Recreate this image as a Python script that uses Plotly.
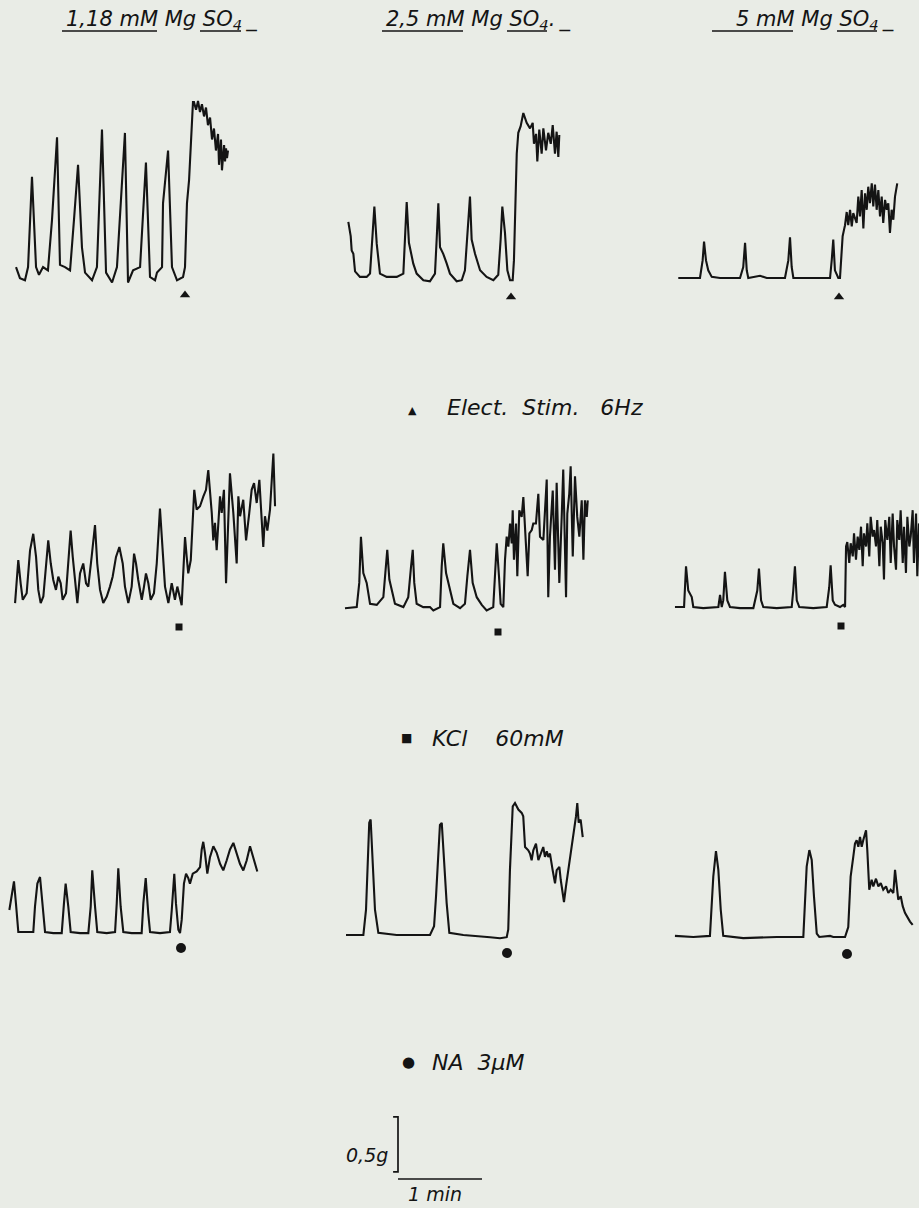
import plotly.graph_objects as go

# ---------------- data ----------------
# Columns: MgSO4 concentration; rows: stimulus applied at t = 0
col_conc = ["1,18 mM", "2,5 mM", "5 mM"]
row_agent = ["Elect.  Stim.", "KCl", "NA"]
row_dose = ["6Hz", "60mM", "3µM"]
stim_time = 0.0          # s, time of stimulus / drug addition
scale_tension = 0.5      # g  (calibration bar)
scale_time = 60          # s  (calibration bar)

# time (s, relative to stimulus) and tension (g, relative to baseline)
a_t = [-120.7, -117.9, -114.3, -112.1, -109.3, -106.4, -104.3, -101.4, -97.9, -95.0, -91.4, -89.3, -85.7, -82.1,
       -79.3, -76.4, -73.6, -71.4, -66.4, -62.9, -59.3, -56.4, -52.1, -48.6, -42.9, -40.7, -37.1, -32.1, -27.9,
       -25.0, -21.4, -20.0, -16.4, -15.7, -12.1, -9.3, -5.7, -1.4, 0.0, 1.4, 2.9, 5.0, 5.7, 6.4, 7.9, 9.3, 10.7,
       12.1, 13.6, 15.0, 16.4, 17.9, 19.3, 20.7, 22.1, 23.6, 24.3, 25.7, 26.4, 27.9, 28.6, 29.3, 30.0, 30.7]
a_g = [0.09, -0.01, -0.03, 0.09, 0.91, 0.09, 0.02, 0.09, 0.06, 0.52, 1.27, 0.11, 0.09, 0.06, 0.52, 1.02, 0.27,
       0.04, -0.03, 0.09, 1.34, 0.04, -0.05, 0.09, 1.31, -0.05, 0.06, 0.09, 1.04, 0.00, -0.03, 0.04, 0.09, 0.67,
       1.15, 0.09, -0.03, 0.00, 0.09, 0.67, 0.88, 1.49, 1.59, 1.59, 1.52, 1.60, 1.50, 1.57, 1.46, 1.54, 1.38,
       1.45, 1.25, 1.35, 1.15, 1.30, 1.02, 1.25, 0.97, 1.20, 1.05, 1.17, 1.08, 1.15]

b_t = [-116.2, -114.5, -113.8, -112.6, -111.4, -107.9, -103.1, -100.7, -98.8, -97.6, -95.9, -93.6, -88.8, -81.6,
       -76.9, -75.7, -74.5, -72.9, -69.8, -67.4, -62.6, -57.9, -54.3, -53.1, -51.9, -50.7, -48.4, -45.9, -43.6,
       -38.8, -35.2, -32.9, -30.5, -29.3, -28.1, -25.7, -22.1, -17.4, -12.6, -9.1, -7.4, -6.2, -4.3, -2.6, -0.7,
       1.2, 2.1, 3.1, 4.1, 5.2, 6.9, 8.8, 11.2, 13.6, 15.5, 16.4, 17.9, 18.8, 20.2, 21.9, 23.1, 25.0, 26.6, 28.4,
       29.8, 31.4, 32.6, 33.8, 34.5]
b_g = [0.51, 0.38, 0.25, 0.22, 0.06, 0.01, 0.01, 0.04, 0.41, 0.65, 0.31, 0.04, 0.01, 0.01, 0.04, 0.35, 0.69,
       0.32, 0.13, 0.04, -0.02, -0.03, 0.04, 0.35, 0.68, 0.28, 0.22, 0.13, 0.04, -0.03, -0.02, 0.07, 0.47, 0.74,
       0.35, 0.22, 0.07, 0.01, -0.02, 0.03, 0.35, 0.65, 0.41, 0.07, -0.02, -0.02, 0.16, 0.71, 1.13, 1.32, 1.38,
       1.50, 1.41, 1.36, 1.41, 1.22, 1.31, 1.06, 1.35, 1.13, 1.36, 1.16, 1.32, 1.22, 1.39, 1.13, 1.33, 1.10, 1.30]

c_t = [-114.8, -99.3, -97.4, -96.4, -95.0, -93.4, -90.9, -85.0, -70.7, -68.4, -67.1, -65.9, -64.8, -58.8, -56.4,
       -51.6, -38.6, -36.2, -35.0, -33.8, -32.6, -20.7, -6.4, -5.2, -4.1, -2.9, -0.5, 0.7, 1.9, 2.6, 3.6, 4.3,
       5.5, 6.6, 7.9, 9.1, 10.2, 12.6, 13.8, 15.0, 16.2, 17.4, 18.6, 19.8, 20.9, 22.1, 23.4, 24.5, 25.7, 26.9,
       28.1, 29.3, 30.5, 31.6, 32.9, 34.1, 35.2, 36.4, 37.6, 38.8, 40.0, 41.6]
c_g = [0.00, 0.00, 0.16, 0.33, 0.16, 0.07, 0.01, 0.00, 0.00, 0.10, 0.32, 0.07, 0.00, 0.01, 0.02, 0.00, 0.00,
       0.16, 0.37, 0.10, 0.00, 0.00, 0.00, 0.16, 0.35, 0.07, 0.00, 0.00, 0.22, 0.38, 0.44, 0.48, 0.60, 0.48,
       0.62, 0.47, 0.59, 0.50, 0.74, 0.56, 0.80, 0.45, 0.77, 0.62, 0.83, 0.68, 0.86, 0.65, 0.85, 0.62, 0.80,
       0.56, 0.74, 0.50, 0.71, 0.62, 0.68, 0.41, 0.62, 0.53, 0.74, 0.86]

d_t = [-117.1, -114.8, -113.1, -111.6, -108.8, -106.4, -104.1, -102.1, -100.5, -98.8,
       -96.9, -95.0, -93.4, -91.6, -89.8, -87.9, -86.2, -84.5, -83.1, -80.7,
       -79.1, -77.4, -75.9, -73.6, -72.6, -70.7, -68.4, -66.4, -64.8, -62.4,
       -60.0, -58.4, -56.4, -54.1, -51.6, -49.3, -47.4, -45.0, -42.6, -40.2,
       -38.6, -36.2, -33.8, -32.1, -30.7, -29.1, -26.6, -25.0, -23.6, -21.9,
       -20.2, -17.9, -15.9, -13.6, -11.6, -10.0, -7.6, -5.2, -2.9, -1.2,
       1.9, 3.1, 4.3, 5.5, 6.6, 8.4, 9.8, 10.9, 12.6, 15.0,
       17.4, 19.3, 20.9, 22.1, 23.4, 24.5, 25.7, 26.9, 28.1, 29.3,
       30.5, 32.1, 33.6, 34.8, 36.4, 38.8, 41.2, 42.4, 43.6, 45.9,
       47.9, 50.2, 51.9, 53.6, 55.5, 57.4, 59.1, 60.2, 61.4, 63.1,
       65.0, 66.2, 67.4, 68.6]
d_g = [-0.01, 0.38, 0.17, 0.02, 0.08, 0.47, 0.62, 0.41, 0.11, -0.01,
       0.05, 0.35, 0.56, 0.35, 0.20, 0.11, 0.23, 0.17, 0.02, 0.08,
       0.41, 0.65, 0.41, 0.14, -0.01, 0.26, 0.35, 0.17, 0.14, 0.41,
       0.70, 0.35, 0.11, -0.01, 0.05, 0.14, 0.23, 0.41, 0.50, 0.35,
       0.14, -0.01, 0.14, 0.44, 0.35, 0.20, 0.02, 0.14, 0.26, 0.17,
       0.02, 0.08, 0.35, 0.85, 0.41, 0.14, -0.01, 0.17, 0.02, 0.14,
       -0.03, 0.23, 0.59, 0.41, 0.26, 0.38, 0.81, 1.02, 0.84, 0.87,
       0.96, 1.02, 1.20, 1.02, 0.81, 0.56, 0.72, 0.47, 0.72, 0.96,
       0.81, 1.02, 0.17, 0.65, 1.17, 0.81, 0.35, 0.96, 0.78, 0.93,
       0.56, 0.81, 1.02, 1.08, 0.90, 1.11, 0.68, 0.50, 0.78, 0.65,
       0.84, 1.05, 1.35, 0.87]

e_t = [-109.3, -100.9, -99.1, -97.9, -96.2, -93.8, -91.4, -86.6, -81.9, -80.0,
       -79.1, -77.6, -75.9, -73.6, -67.6, -64.1, -62.1, -60.9, -59.8, -58.1,
       -53.4, -48.6, -46.2, -41.4, -40.2, -39.1, -37.1, -34.3, -31.9, -27.1,
       -23.6, -21.9, -20.0, -18.1, -15.2, -11.6, -8.1, -3.4, -2.1, -0.9,
       0.7, 1.9, 3.8, 5.0, 6.2, 7.4, 8.6, 9.8, 10.5, 11.4,
       12.9, 13.8, 15.2, 16.9, 18.1, 20.0, 21.2, 22.4, 24.1, 25.2,
       27.1, 28.8, 30.0, 32.4, 34.8, 35.9, 37.1, 39.1, 40.7, 41.9,
       43.8, 45.5, 46.6, 48.6, 49.5, 50.9, 51.9, 53.4, 55.0, 56.6,
       58.1, 59.8, 61.0, 62.1, 63.4, 64.1]
e_g = [-0.02, -0.01, 0.21, 0.63, 0.30, 0.21, 0.02, 0.01, 0.08, 0.36,
       0.51, 0.24, 0.15, 0.02, -0.01, 0.08, 0.36, 0.51, 0.21, 0.02,
       -0.01, -0.01, -0.04, -0.01, 0.36, 0.57, 0.30, 0.15, 0.02, -0.02,
       0.02, 0.27, 0.51, 0.21, 0.08, 0.01, -0.04, -0.01, 0.30, 0.57,
       0.27, 0.02, -0.01, 0.42, 0.63, 0.54, 0.75, 0.57, 0.87, 0.42,
       0.75, 0.27, 0.87, 0.81, 0.99, 0.60, 0.27, 0.66, 0.69, 0.75,
       0.75, 1.02, 0.63, 0.60, 1.15, 0.08, 0.63, 1.05, 0.33, 1.12,
       0.21, 0.81, 1.24, 0.08, 0.84, 1.02, 1.27, 0.45, 1.18, 0.81,
       0.63, 0.96, 0.42, 0.96, 0.81, 0.96]

f_t = [-118.6, -112.1, -110.7, -109.1, -106.6, -105.5, -98.4, -87.6, -86.4, -85.2,
       -84.1, -82.9, -81.2, -79.3, -72.1, -62.6, -59.8, -58.6, -57.1, -55.5,
       -45.9, -35.2, -34.1, -32.9, -31.6, -29.8, -19.8, -10.2, -8.4, -7.4,
       -5.9, -4.3, -0.7, 1.6, 2.9, 3.6, 4.5, 5.9, 6.9, 8.4,
       9.3, 10.7, 11.9, 13.1, 14.3, 15.5, 16.4, 17.9, 18.8, 20.2,
       21.2, 22.6, 23.6, 25.0, 25.9, 27.4, 28.4, 29.8, 30.7, 31.6,
       33.1, 34.5, 35.5, 36.9, 37.9, 39.3, 40.2, 41.6, 42.6, 44.1,
       45.0, 46.4, 47.4, 48.8, 49.8, 51.2, 52.1, 53.6, 54.5, 55.7]
f_g = [0.00, 0.00, 0.37, 0.15, 0.09, 0.00, -0.01, 0.00, 0.11, 0.00,
       0.06, 0.32, 0.06, 0.00, -0.01, -0.01, 0.15, 0.35, 0.06, 0.00,
       -0.01, 0.00, 0.15, 0.37, 0.06, 0.00, -0.01, 0.00, 0.18, 0.38,
       0.06, 0.02, 0.00, 0.02, 0.00, 0.55, 0.59, 0.40, 0.58, 0.46,
       0.67, 0.43, 0.64, 0.52, 0.73, 0.37, 0.67, 0.55, 0.76, 0.46,
       0.82, 0.64, 0.70, 0.55, 0.79, 0.37, 0.73, 0.58, 0.25, 0.79,
       0.61, 0.82, 0.40, 0.85, 0.55, 0.34, 0.79, 0.61, 0.88, 0.40,
       0.73, 0.31, 0.82, 0.55, 0.64, 0.88, 0.40, 0.85, 0.28, 0.76]

g_t = [-122.6, -120.9, -119.3, -117.9, -116.2, -110.2, -105.5, -104.3, -102.6, -100.7,
       -98.8, -97.1, -91.2, -85.2, -83.6, -82.4, -80.5, -78.8, -72.1, -66.2,
       -64.5, -63.4, -61.4, -59.8, -53.1, -47.1, -45.9, -44.8, -43.1, -41.2,
       -35.2, -28.1, -26.9, -25.2, -23.4, -22.1, -15.0, -7.9, -6.6, -4.8,
       -3.6, -1.9, -0.7, 0.5, 2.1, 3.6, 5.2, 6.4, 8.4, 11.2,
       13.6, 14.8, 15.9, 17.1, 18.8, 20.7, 23.1, 25.5, 27.9, 30.2,
       32.6, 35.0, 37.4, 39.8, 42.1, 44.5, 46.9, 49.3, 51.6, 53.6,
       54.5]
g_g = [0.20, 0.35, 0.46, 0.26, 0.00, 0.00, 0.00, 0.23, 0.44, 0.50,
       0.26, 0.00, -0.01, -0.01, 0.26, 0.44, 0.23, 0.00, -0.01, -0.01,
       0.23, 0.56, 0.23, 0.00, -0.01, 0.00, 0.26, 0.58, 0.23, 0.00,
       -0.01, -0.01, 0.26, 0.49, 0.17, 0.00, -0.01, 0.00, 0.20, 0.53,
       0.26, 0.02, -0.01, 0.11, 0.44, 0.53, 0.49, 0.44, 0.53, 0.55,
       0.59, 0.75, 0.82, 0.72, 0.53, 0.68, 0.78, 0.72, 0.62, 0.56,
       0.65, 0.75, 0.81, 0.72, 0.62, 0.56, 0.65, 0.78, 0.68, 0.59,
       0.55]

h_t = [-115.0, -102.6, -100.7, -99.5, -98.4, -97.4, -95.9, -94.3, -91.9, -78.8,
       -55.0, -52.1, -50.7, -49.1, -47.9, -46.6, -45.5, -43.1, -41.2, -31.2,
       -12.1, -5.0, -0.2, 0.9, 2.1, 4.1, 5.7, 8.1, 10.5, 11.6,
       12.9, 15.2, 16.4, 17.6, 18.8, 20.7, 22.4, 24.1, 25.9, 27.1,
       28.4, 29.5, 30.7, 32.6, 34.3, 35.5, 37.4, 38.4, 39.8, 40.7,
       42.1, 43.8, 46.2, 47.9, 49.3, 50.2, 51.2, 52.6, 54.1]
h_g = [0.00, 0.00, 0.23, 0.59, 1.02, 1.05, 0.59, 0.23, 0.02, 0.00,
       0.00, 0.08, 0.35, 0.77, 1.00, 1.02, 0.80, 0.29, 0.02, 0.00,
       -0.02, -0.03, -0.02, 0.05, 0.59, 1.17, 1.20, 1.14, 1.11, 1.08,
       0.80, 0.77, 0.74, 0.68, 0.77, 0.83, 0.68, 0.74, 0.80, 0.71,
       0.76, 0.71, 0.74, 0.59, 0.47, 0.59, 0.62, 0.50, 0.35, 0.30,
       0.44, 0.59, 0.80, 0.92, 1.08, 1.20, 1.02, 1.05, 0.89]

i_t = [-122.9, -109.8, -97.9, -96.6, -95.5, -93.6, -91.9, -90.2, -88.4, -74.1,
       -50.2, -31.2, -30.0, -28.8, -26.9, -25.2, -23.6, -21.6, -19.8, -12.1,
       -9.8, -1.4, 0.9, 2.6, 4.5, 5.7, 6.9, 8.1, 9.3, 10.5,
       11.6, 12.9, 13.6, 14.5, 15.2, 15.9, 17.6, 18.8, 20.7, 22.4,
       24.1, 25.9, 27.9, 29.5, 31.2, 33.1, 34.3, 35.5, 36.6, 38.4,
       39.8, 41.4, 43.1, 45.0, 46.9]
i_g = [0.01, 0.00, 0.01, 0.25, 0.55, 0.78, 0.61, 0.25, 0.01, -0.01,
       0.00, 0.00, 0.37, 0.64, 0.79, 0.70, 0.37, 0.03, 0.00, 0.01,
       0.00, 0.00, 0.09, 0.55, 0.73, 0.85, 0.88, 0.82, 0.91, 0.82,
       0.88, 0.95, 0.97, 0.79, 0.55, 0.43, 0.52, 0.46, 0.53, 0.46,
       0.49, 0.43, 0.46, 0.40, 0.43, 0.40, 0.61, 0.43, 0.34, 0.37,
       0.28, 0.22, 0.18, 0.14, 0.11]

traces = [(a_t, a_g), (b_t, b_g), (c_t, c_g),
          (d_t, d_g), (e_t, e_g), (f_t, f_g),
          (g_t, g_g), (h_t, h_g), (i_t, i_g)]
for t, g in traces:
    assert len(t) == len(g)

# ---------------- layout geometry (pixels) ----------------
W, H = 919, 1208
PX_S = 1.4      # px per second (1 min = 84 px)
PX_G = 110.0    # px per gram   (0.5 g = 55 px)
PAPER = "#e9ece6"
INK = "#141414"
FONT = "DejaVu Sans"

col_px = [(0, 305), (315, 622), (632, 919)]
row_px = [(60, 322), (420, 662), (770, 1005)]
origin_px = [(185, 277), (511, 278), (839, 278),
             (179, 602), (498, 606), (841, 607),
             (181, 932), (507, 935), (847, 937)]
mark_drop_px = [18, 19, 19, 25, 26, 19, 16, 18, 17]
mark_symbol = ["triangle-up", "square", "circle"]
mark_size = [9, 7, 10]

fig = go.Figure()
layout = {}


def add_axes(k, box_x, box_y, org):
    L, R = box_x
    T, B = box_y
    x0, y0 = org
    sx = "" if k == 1 else str(k)
    layout["xaxis" + sx] = dict(domain=[L / W, R / W], range=[(L - x0) / PX_S, (R - x0) / PX_S],
                                visible=False, fixedrange=True, anchor="y" + sx)
    layout["yaxis" + sx] = dict(domain=[1 - B / H, 1 - T / H], range=[(y0 - B) / PX_G, (y0 - T) / PX_G],
                                visible=False, fixedrange=True, anchor="x" + sx)
    return "x" + sx, "y" + sx


for k, (t, g) in enumerate(traces):
    r, c = divmod(k, 3)
    xr, yr = add_axes(k + 1, col_px[c], row_px[r], origin_px[k])
    fig.add_trace(go.Scatter(x=t, y=g, mode="lines", xaxis=xr, yaxis=yr,
                             line=dict(color=INK, width=2.1), hoverinfo="skip"))
    fig.add_trace(go.Scatter(x=[stim_time], y=[-mark_drop_px[k] / PX_G], mode="markers",
                             xaxis=xr, yaxis=yr, cliponaxis=False,
                             marker=dict(symbol=mark_symbol[r], size=mark_size[r], color=INK),
                             hoverinfo="skip"))

# calibration bar axes
xr, yr = add_axes(10, (330, 520), (1100, 1205), (398, 1179))
tick = 3.5  # s, short serif of the bracket
lift = 0.065  # g, gap between bracket and time bar
fig.add_trace(go.Scatter(x=[-tick, 0, 0, -tick],
                         y=[lift + scale_tension, lift + scale_tension, lift, lift],
                         mode="lines", xaxis=xr, yaxis=yr, line=dict(color=INK, width=1.7),
                         hoverinfo="skip"))
fig.add_trace(go.Scatter(x=[0, scale_time], y=[0, 0], mode="lines", xaxis=xr, yaxis=yr,
                         line=dict(color=INK, width=1.7), hoverinfo="skip"))


def px(x, y):
    return x / W, 1 - y / H


ann = []
shapes = []


def text(x, y, s, size, xanchor="left"):
    xp, yp = px(x, y)
    ann.append(dict(x=xp, y=yp, xref="paper", yref="paper", text=s, showarrow=False,
                    xanchor=xanchor, yanchor="middle", font=dict(family=FONT, size=size, color=INK)))


def underline(x1, x2, y):
    a = px(x1, y)
    b = px(x2, y)
    shapes.append(dict(type="line", xref="paper", yref="paper", x0=a[0], x1=b[0], y0=a[1], y1=b[1],
                       line=dict(color=INK, width=1.6)))


NB = "\u00a0"
head_x = [64, 384, 734]
head_post = ["\u2009_", ".\u2009_", "\u2009_"]
for c in range(3):
    s = "<i>" + col_conc[c].replace(" ", NB) + NB + "Mg" + NB + "SO<sub>4</sub>" + head_post[c] + "</i>"
    text(head_x[c], 20, s, 21)

# underlines of the column headings (concentration part and "SO")
ul_conc = [(62, 157), (382, 463), (712, 793)]
ul_so = [(200, 241), (507, 547), (837, 877)]
for c in range(3):
    underline(ul_conc[c][0], ul_conc[c][1], 31)
    underline(ul_so[c][0], ul_so[c][1], 31)

# row legends
sym = ["\u25b2", "\u25a0", "\u25cf"]
sym_xy = [(412, 410), (406, 738), (408, 1062)]
sym_size = [11, 12, 15]
lab_xy = [(445, 408), (430, 738), (430, 1062)]
gap = [NB * 3, NB * 4, NB * 2]
for r in range(3):
    text(sym_xy[r][0], sym_xy[r][1], sym[r], sym_size[r], "center")
    text(lab_xy[r][0], lab_xy[r][1],
         "<i>" + row_agent[r].replace(" ", NB) + gap[r] + row_dose[r] + "</i>", 22)

text(390, 1155, "<i>0,5g</i>", 19, "right")
text(435, 1194, "<i>1" + NB + "min</i>", 19, "center")

fig.update_layout(layout)
fig.update_layout(width=W, height=H, margin=dict(l=0, r=0, t=0, b=0), autosize=False,
                  paper_bgcolor=PAPER, plot_bgcolor=PAPER, showlegend=False,
                  annotations=ann, shapes=shapes)

fig.write_html("out.html")
